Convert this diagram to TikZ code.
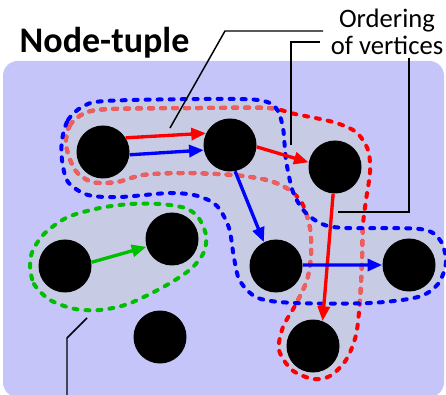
\documentclass[tikz,border=0pt]{standalone}
\usepackage{fontspec}
\setmainfont{Carlito}
\usetikzlibrary{arrows.meta}

\definecolor{bgblue}{RGB}{197,197,250}
\definecolor{tuplefill}{RGB}{200,203,228}
\definecolor{fadered}{RGB}{236,96,96}
\definecolor{pathgreen}{RGB}{0,190,0}

\begin{document}
\begin{tikzpicture}[x=0.75pt, y=-0.75pt,
    vertex/.style={circle, fill=black, inner sep=0pt, minimum size=39.75pt},
    edge/.style={line width=2.5pt, -{Triangle[length=11pt,width=9pt]}},
    tuple/.style={line width=3pt, line cap=round, dash pattern=on 3pt off 6pt},
    leader/.style={line width=1.1pt}]

  \useasboundingbox (0,0) rectangle (446,395);

  % Background panel
  \fill[bgblue, rounded corners=11pt] (3,61) rectangle (444,397);

  % Outlines of the three tuples
  \def\redtuple{plot[smooth cycle, tension=0.5] coordinates {
    (66,145) (70,125) (85,113) (110,109) (200,108) (268,108) (295,114)
    (333,122) (356,132) (368,150) (370,172) (366,200) (363,225) (362,260)
    (360,300) (356,335) (346,360) (330,376) (313,379) (292,370) (279,350)
    (283,327) (296,304) (307,280) (311,255) (310,228) (302,203) (288,189)
    (267,180) (233,175) (183,173) (143,175) (117,182) (92,182) (75,170)}}
  \def\bluetuple{plot[smooth cycle, tension=0.5] coordinates {
    (62,140) (68,120) (82,107) (105,101) (200,99) (258,100) (276,108)
    (283,128) (286,160) (293,192) (305,212) (322,224) (345,228) (420,229)
    (440,240) (446,262) (438,284) (418,297) (370,303) (295,303) (258,298)
    (240,281) (234,258) (229,228) (217,206) (198,196) (170,193) (120,197)
    (88,195) (68,182) (62,160)}}
  \def\greentuple{plot[smooth cycle, tension=0.5] coordinates {
    (30,265) (34,284) (50,300) (75,309) (100,310) (125,305) (148,295)
    (172,282) (192,268) (204,252) (206,235) (198,217) (185,208) (160,204)
    (130,204) (100,208) (68,217) (45,233) (33,250)}}

  % Shaded insides
  \fill[tuplefill] \redtuple;
  \fill[tuplefill] \bluetuple;
  \fill[tuplefill] \greentuple;

  % Red outline, paler where it runs under the blue tuple
  \draw[tuple, red] \redtuple;
  \begin{scope}
    \clip \bluetuple;
    \draw[tuple, fadered] \redtuple;
  \end{scope}
  \draw[tuple, blue] \bluetuple;
  \draw[tuple, pathgreen] \greentuple;

  % Vertices
  \node[vertex] (a) at (103,152) {};
  \node[vertex] (b) at (230,145) {};
  \node[vertex] (c) at (335,167) {};
  \node[vertex] (d) at (65,266) {};
  \node[vertex] (e) at (172,239) {};
  \node[vertex] (f) at (276,266) {};
  \node[vertex] (g) at (409,265) {};
  \node[vertex] (h) at (313,346) {};
  \node[vertex] (i) at (160,337) {};

  % Labels
  \node[anchor=base west, font=\bfseries\fontsize{27}{27}\selectfont] (title) at (15,53) {Node-tuple};
  \node[align=center, font=\fontsize{20}{20.5}\selectfont] (ord) at (387,32) {Ordering\\of vertices};

  % Leader lines
  \coordinate (p1) at (323,31);
  \coordinate (q1) at (170,128);
  \coordinate (p2) at (320,42);
  \coordinate (q2) at (291,145);
  \coordinate (p3) at (409,58);
  \coordinate (q3) at (338,212);
  \coordinate (p4) at (87,318);
  \coordinate (q4) at (67,400);
  \draw[leader] (p1) -- (225,31) -- (q1);
  \draw[leader] (p2) -- (291,42) -- (q2);
  \draw[leader] (p3) -- (409,212) -- (q3);
  \draw[leader] (p4) -- (67,338) -- (q4);

  % Ordered edges
  \draw[edge, red] (a.32) -- (b.154);
  \draw[edge, red] (b.-4) -- (c.170);
  \draw[edge, red] (c.-94) -- (h.69);
  \draw[edge, blue] (a.-6) -- (b.191);
  \draw[edge, blue] (b.-79) -- (f.117);
  \draw[edge, blue] (f.2) -- (g.180);
  \draw[edge, pathgreen] (d.8) -- (e.197);

\end{tikzpicture}
\end{document}
